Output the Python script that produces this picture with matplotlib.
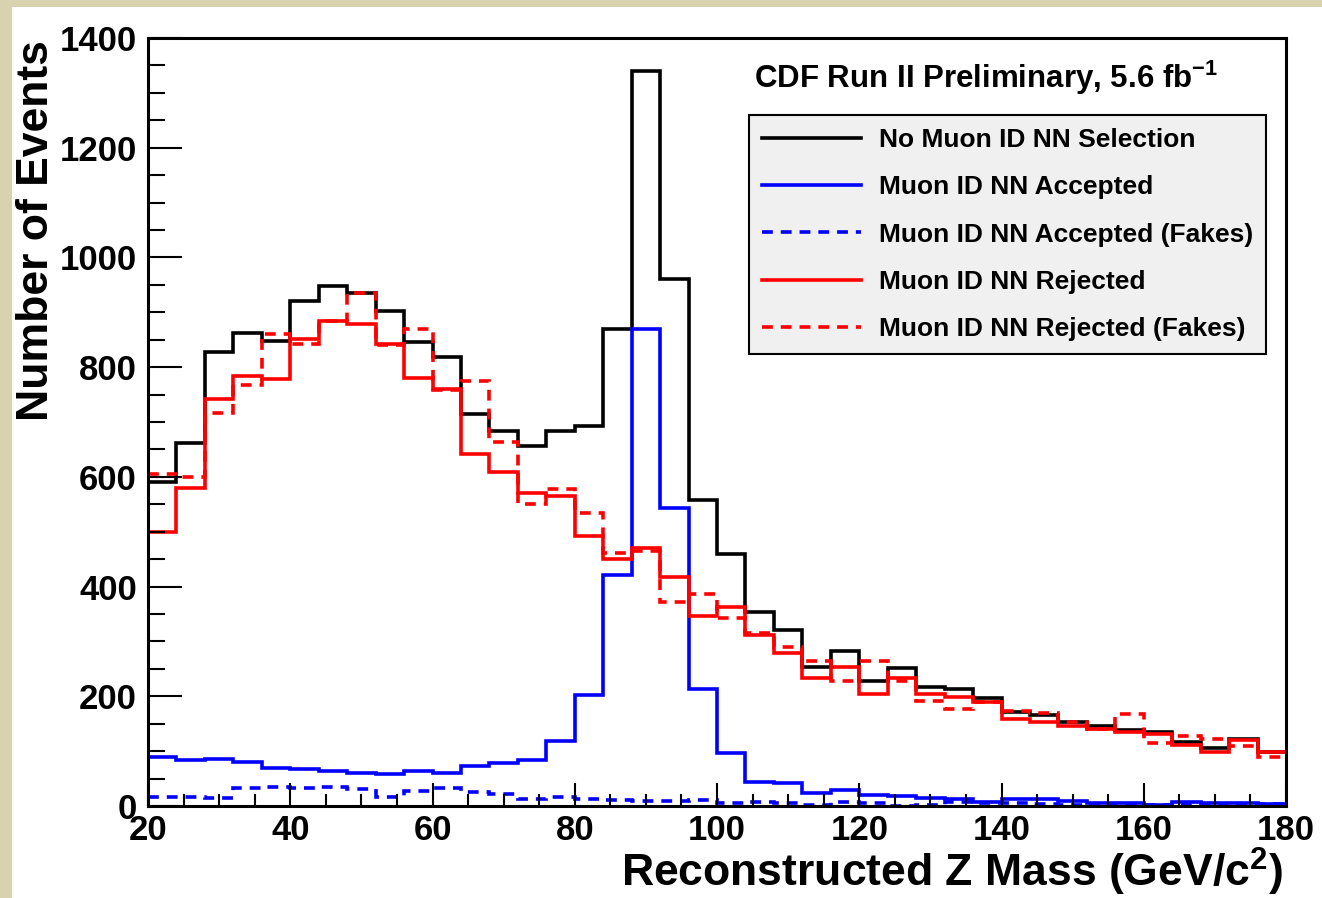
import numpy as np
import matplotlib
matplotlib.use("Agg")
import matplotlib.pyplot as plt
from matplotlib.patches import Rectangle
from matplotlib.ticker import MultipleLocator

plt.rcParams['font.family'] = ['Liberation Sans', 'DejaVu Sans']
plt.rcParams['font.weight'] = 'bold'
plt.rcParams['mathtext.fontset'] = 'custom'
plt.rcParams['mathtext.rm'] = 'Liberation Sans:bold'
plt.rcParams['mathtext.bf'] = 'Liberation Sans:bold'
plt.rcParams['mathtext.it'] = 'Liberation Sans:bold'

# bin edges: 20..180 GeV in 4 GeV bins
edges = np.arange(20, 184, 4)

no_sel = [591, 661, 828, 863, 848, 921, 948, 936, 902, 845, 819, 714, 684, 657, 684, 693,
          869, 1339, 961, 558, 459, 354, 321, 254, 283, 227, 251, 217, 213, 196, 172, 166,
          154, 146, 139, 135, 117, 105, 122, 99]
accepted = [90, 83, 85, 80, 70, 67, 64, 61, 58, 64, 61, 73, 78, 84, 118, 202,
            421, 869, 543, 213, 97, 44, 42, 23, 29, 20, 18, 14, 13, 8, 12, 13,
            10, 6, 5, 2, 7, 5, 5, 4]
accepted_fakes = [16, 17, 15, 33, 34, 32, 35, 31, 16, 27, 32, 26, 21, 13, 17, 13,
                  11, 10, 10, 11, 6, 7, 5, 2, 7, 6, 0, 2, 7, 5, 5, 4,
                  1, 3, 2, 1, 4, 3, 2, 3]
rejected = [499, 579, 742, 783, 778, 852, 885, 878, 843, 781, 760, 641, 608, 571, 566, 492,
            450, 470, 418, 346, 363, 312, 278, 233, 253, 205, 233, 205, 198, 190, 158, 153,
            145, 140, 135, 132, 112, 99, 120, 99]
rejected_fakes = [605, 599, 716, 767, 860, 843, 885, 936, 840, 869, 758, 775, 664, 550, 578, 535,
                  462, 465, 371, 386, 343, 315, 289, 265, 227, 265, 228, 191, 177, 190, 173, 170,
                  153, 140, 167, 115, 128, 122, 110, 89]

labels = ['No Muon ID NN Selection', 'Muon ID NN Accepted', 'Muon ID NN Accepted (Fakes)',
          'Muon ID NN Rejected', 'Muon ID NN Rejected (Fakes)']

W, H = 1322, 898
fig = plt.figure(figsize=(W / 100, H / 100), dpi=100)
fig.patch.set_facecolor('#d8d2ae')
# white canvas
fig.patches.append(Rectangle((12 / W, 0), 1 - 12 / W, 1 - 7 / H, transform=fig.transFigure,
                             facecolor='white', edgecolor='none', zorder=-5))

ax = fig.add_axes([148 / W, (H - 806) / H, 1138 / W, 768 / H])
ax.set_facecolor('white')

lw = 2.6
dash = (0, (3, 2.2))
ax.stairs(no_sel, edges, baseline=None, color='black', lw=lw, label=labels[0])
ax.stairs(accepted, edges, baseline=None, color='#0000ff', lw=lw, label=labels[1])
ax.stairs(accepted_fakes, edges, baseline=None, color='#0000ff', lw=lw, ls=dash, label=labels[2])
ax.stairs(rejected, edges, baseline=None, color='#ff0000', lw=lw, label=labels[3])
ax.stairs(rejected_fakes, edges, baseline=None, color='#ff0000', lw=lw, ls=dash, label=labels[4])

ax.set_xlim(20, 180)
ax.set_ylim(0, 1400)
ax.xaxis.set_major_locator(MultipleLocator(20))
ax.xaxis.set_minor_locator(MultipleLocator(5))
ax.yaxis.set_major_locator(MultipleLocator(200))
ax.yaxis.set_minor_locator(MultipleLocator(50))

for s in ax.spines.values():
    s.set_linewidth(2.2)
ax.tick_params(axis='both', which='both', direction='in', width=1.5, labelsize=25)
ax.tick_params(axis='x', which='major', length=16.5, pad=6)
ax.tick_params(axis='x', which='minor', length=8.6)
ax.tick_params(axis='y', which='major', length=24.5, pad=8)
ax.tick_params(axis='y', which='minor', length=12)
for t in ax.get_xticklabels() + ax.get_yticklabels():
    t.set_fontweight('bold')

leg = ax.legend(loc='upper right', bbox_to_anchor=(0.9824, 0.8997), borderaxespad=0,
                prop={'family': 'Liberation Sans', 'weight': 'bold', 'size': 19},
                fancybox=False, frameon=True, handlelength=3.75, handletextpad=0.65,
                labelspacing=0.88, borderpad=0.5)
leg.get_frame().set_facecolor('#f0f0f0')
leg.get_frame().set_edgecolor('black')
leg.get_frame().set_linewidth(1.5)
leg.get_frame().set_alpha(1)

ax.text((754 - 148) / 1138, (806 - 78) / 768, r'CDF Run II Preliminary, 5.6 fb$^{-1}$',
        transform=ax.transAxes, ha='left', va='center', fontsize=22.5, fontweight='bold')

fig.text(1283 / W, 1 - 872 / H, r'Reconstructed Z Mass (GeV/c$^{2}$)', ha='right', va='center',
         fontsize=32, fontweight='bold')
fig.text(37 / W, 1 - 40 / H, 'Number of Events', rotation=90, ha='center', va='top',
         fontsize=32, fontweight='bold')

fig.savefig('out.png', dpi=100, facecolor=fig.get_facecolor())
